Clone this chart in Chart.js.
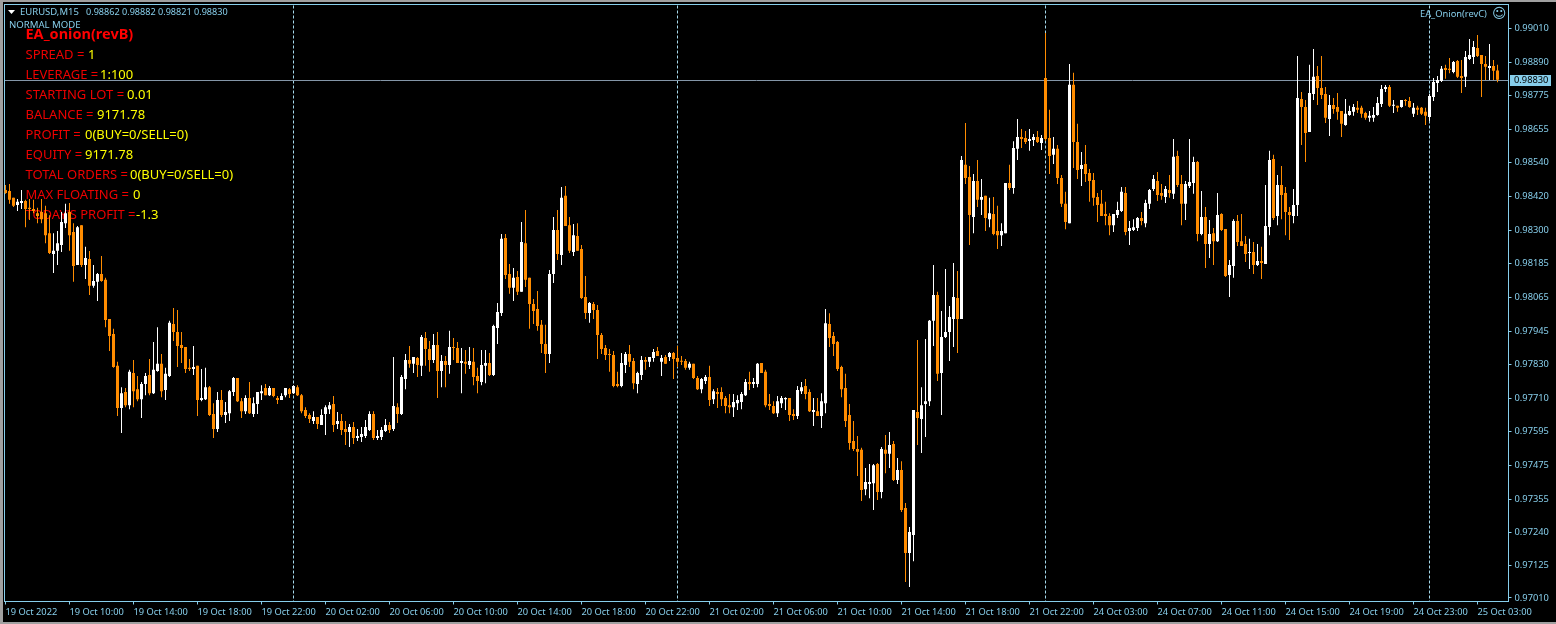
<!DOCTYPE html>
<html>
<head>
<meta charset="utf-8">
<title>EURUSD,M15</title>
<script src="https://cdn.jsdelivr.net/npm/chart.js@4/dist/chart.umd.min.js"></script>
<style>
	html, body { margin: 0; padding: 0; background: #000; overflow: hidden; }
	canvas { display: block; }
</style>
</head>
<body>
<canvas id="chart" width="1556" height="624"></canvas>
<script>
// Prices are in points (1 point = 0.00001), one entry per 15 minute bar
const opens = [
	98443,98439,98415,98390,98397,98404,98380,98376,98361,98365,98361,98291,98218,98229,98249,98326,
	98365,98295,98179,98319,98179,98200,98106,98120,98148,98127,97990,97937,97825,97677,97733,97687,
	97800,97743,97708,97761,97793,97729,97807,97832,97740,97789,97972,97944,97898,97891,97818,97814,
	97825,97705,97708,97750,97656,97603,97705,97652,97659,97733,97782,97701,97666,97712,97656,97691,
	97729,97747,97722,97747,97712,97705,97722,97743,97729,97750,97722,97670,97652,97631,97645,97617,
	97656,97673,97691,97621,97631,97603,97593,97610,97572,97575,97579,97600,97656,97572,97575,97596,
	97617,97603,97680,97656,97779,97846,97832,97853,97825,97923,97884,97846,97898,97807,97842,97828,
	97891,97888,97835,97839,97828,97839,97789,97768,97825,97835,97793,97958,98011,98274,98148,98099,
	98137,98085,98256,98134,98042,98025,97969,97902,97867,98148,98302,98214,98422,98319,98225,98281,
	98235,98067,98011,98042,98021,97933,97888,97867,97863,97761,97754,97828,97867,97842,97761,97793,
	97846,97839,97853,97877,97839,97856,97856,97870,97853,97842,97842,97818,97832,97782,97743,97772,
	97786,97708,97733,97733,97712,97687,97680,97694,97698,97722,97768,97761,97761,97835,97804,97691,
	97684,97659,97694,97708,97712,97656,97649,97736,97754,97733,97663,97666,97649,97694,97972,97930,
	97909,97821,97747,97652,97561,97533,97530,97392,97410,97413,97480,97382,97530,97516,97551,97424,
	97459,97326,97168,97231,97663,97638,97691,97701,97983,98074,97800,97926,97944,97990,98063,97990,
	98531,98488,98348,98474,98408,98422,98340,98358,98299,98284,98291,98467,98450,98587,98629,98625,
	98615,98618,98629,98608,98836,98625,98566,98587,98485,98394,98326,98812,98611,98516,98534,98502,
	98478,98418,98394,98358,98351,98319,98355,98369,98432,98299,98302,98309,98344,98326,98394,98446,
	98474,98432,98418,98443,98429,98562,98464,98394,98457,98467,98541,98288,98348,98253,98291,98263,
	98358,98306,98144,98176,98334,98263,98253,98221,98225,98179,98193,98183,98313,98551,98351,98460,
	98432,98365,98351,98390,98762,98734,98646,98780,98843,98801,98780,98692,98741,98734,98720,98671,
	98706,98717,98731,98731,98713,98696,98696,98706,98745,98797,98804,98738,98738,98734,98759,98755,
	98710,98731,98731,98717,98699,98769,98818,98825,98871,98868,98857,98896,98843,98840,98903,98910,
	98941,98917,98885,98871,98878,98862
];
const highs = [
	98460,98464,98415,98411,98443,98408,98411,98408,98380,98411,98387,98354,98291,98299,98365,98394,
	98397,98326,98316,98319,98243,98228,98179,98151,98211,98134,97990,97955,97839,97750,97747,97811,
	97846,97789,97768,97800,97849,97909,97961,97867,97818,97983,98028,98021,97944,97891,97849,97895,
	97825,97814,97818,97754,97694,97733,97740,97698,97740,97786,97782,97712,97722,97768,97715,97733,
	97757,97761,97754,97747,97719,97729,97747,97747,97757,97757,97726,97680,97659,97666,97645,97673,
	97687,97698,97719,97663,97656,97631,97621,97628,97603,97610,97635,97666,97666,97600,97610,97638,
	97628,97856,97694,97793,97867,97895,97856,97856,97933,97944,97912,97937,97944,97863,97860,97948,
	97923,97909,97888,97881,97891,97888,97818,97881,97881,97870,97969,98046,98288,98288,98183,98169,
	98158,98330,98372,98134,98060,98088,97986,97969,98162,98348,98372,98453,98457,98348,98323,98326,
	98249,98141,98049,98049,98039,97940,97898,97884,97877,97804,97870,97874,97898,97853,97804,97860,
	97856,97856,97884,97891,97863,97863,97874,97874,97895,97860,97849,97839,97832,97789,97782,97793,
	97825,97743,97747,97750,97719,97726,97726,97722,97733,97779,97804,97782,97835,97835,97811,97726,
	97701,97719,97719,97715,97712,97673,97754,97768,97779,97743,97712,97712,97729,98025,98010,97944,
	97912,97825,97797,97691,97631,97579,97537,97466,97480,97480,97484,97540,97582,97593,97561,97501,
	97490,97343,97259,97670,97916,97750,97919,97986,98179,98085,98018,98165,98035,98186,98158,98562,
	98678,98527,98499,98548,98481,98422,98415,98418,98387,98326,98467,98531,98614,98692,98657,98650,
	98657,98639,98650,98636,98994,98724,98629,98601,98495,98436,98885,98854,98675,98576,98601,98516,
	98502,98432,98443,98401,98361,98358,98401,98453,98453,98334,98340,98348,98365,98408,98446,98495,
	98506,98464,98457,98495,98622,98580,98495,98474,98622,98559,98544,98439,98383,98337,98309,98432,
	98361,98306,98197,98340,98355,98358,98281,98271,98260,98253,98243,98460,98580,98566,98495,98527,
	98453,98383,98446,98913,98787,98759,98882,98938,98878,98913,98804,98776,98766,98783,98720,98762,
	98738,98745,98755,98738,98717,98720,98734,98769,98811,98811,98811,98759,98738,98759,98762,98769,
	98748,98738,98734,98731,98780,98836,98843,98878,98882,98906,98896,98899,98899,98931,98973,98966,
	98987,98917,98913,98955,98899,98882
];
const lows = [
	98429,98394,98383,98369,98376,98312,98337,98361,98326,98326,98256,98218,98151,98179,98225,98309,
	98229,98120,98179,98172,98130,98074,98099,98053,98120,97961,97877,97818,97649,97589,97680,97673,
	97680,97701,97642,97722,97722,97726,97804,97715,97705,97786,97912,97821,97835,97800,97807,97793,
	97649,97701,97705,97649,97572,97593,97645,97624,97631,97719,97698,97642,97656,97656,97645,97656,
	97705,97722,97719,97715,97691,97705,97715,97712,97726,97719,97659,97642,97624,97621,97603,97617,
	97582,97656,97593,97603,97582,97547,97540,97551,97561,97558,97572,97596,97565,97565,97565,97593,
	97589,97596,97624,97652,97743,97818,97800,97786,97789,97825,97804,97835,97712,97750,97750,97797,
	97846,97835,97729,97797,97814,97757,97729,97757,97764,97789,97789,97902,98000,98130,98078,98053,
	98074,98085,98102,97955,97972,97948,97870,97800,97835,98116,98197,98179,98316,98221,98211,98229,
	98060,97990,97976,97990,97849,97867,97846,97804,97750,97750,97750,97800,97821,97743,97729,97775,
	97811,97821,97839,97860,97789,97832,97842,97779,97821,97828,97811,97811,97779,97740,97729,97761,
	97684,97691,97677,97684,97659,97659,97645,97670,97673,97719,97740,97747,97750,97800,97680,97670,
	97656,97645,97677,97670,97631,97635,97638,97726,97708,97663,97614,97649,97607,97659,97891,97860,
	97807,97715,97610,97530,97526,97438,97350,97371,97360,97319,97354,97360,97448,97466,97421,97410,
	97312,97066,97048,97139,97547,97519,97575,97684,97895,97772,97652,97923,97842,97891,97870,97990,
	98464,98249,98291,98383,98355,98299,98312,98284,98235,98246,98291,98443,98429,98548,98590,98604,
	98580,98597,98608,98583,98615,98499,98534,98464,98383,98305,98326,98520,98481,98457,98471,98401,
	98387,98330,98351,98319,98284,98295,98344,98365,98284,98249,98299,98299,98319,98312,98376,98439,
	98404,98408,98397,98415,98411,98453,98319,98337,98450,98429,98263,98284,98169,98204,98179,98260,
	98299,98137,98067,98134,98246,98246,98190,98165,98148,98176,98130,98183,98284,98337,98319,98340,
	98284,98267,98326,98351,98601,98541,98646,98759,98741,98762,98678,98632,98710,98689,98629,98668,
	98703,98703,98713,98696,98689,98682,98682,98703,98734,98787,98734,98713,98717,98731,98738,98731,
	98699,98706,98706,98671,98685,98755,98787,98822,98833,98853,98853,98836,98783,98804,98899,98885,
	98910,98769,98829,98829,98829,98821
];
const closes = [
	98432,98408,98387,98401,98404,98376,98376,98369,98351,98340,98284,98221,98229,98256,98330,98361,
	98284,98176,98312,98179,98204,98106,98123,98148,98123,97986,97930,97821,97677,97729,97687,97804,
	97736,97708,97761,97789,97729,97811,97832,97736,97797,97976,97944,97895,97888,97814,97814,97821,
	97705,97712,97750,97652,97603,97705,97652,97663,97736,97782,97701,97666,97712,97659,97694,97733,
	97736,97722,97747,97719,97705,97719,97747,97726,97754,97722,97666,97649,97638,97645,97621,97652,
	97680,97687,97617,97631,97600,97593,97610,97572,97579,97586,97610,97656,97572,97579,97600,97617,
	97600,97684,97656,97786,97846,97832,97856,97828,97926,97884,97846,97898,97807,97842,97828,97891,
	97888,97835,97842,97832,97842,97786,97772,97828,97835,97793,97965,98014,98271,98144,98099,98134,
	98085,98260,98127,98042,98018,97965,97902,97867,98148,98302,98218,98415,98316,98229,98284,98229,
	98063,98011,98046,98021,97933,97884,97863,97863,97754,97754,97835,97867,97839,97764,97800,97846,
	97839,97856,97874,97860,97853,97832,97870,97849,97839,97839,97818,97832,97782,97743,97779,97786,
	97705,97736,97726,97708,97684,97680,97698,97705,97726,97768,97761,97768,97832,97800,97687,97684,
	97659,97701,97712,97712,97652,97649,97740,97750,97726,97666,97670,97649,97701,97975,97923,97902,
	97814,97743,97631,97554,97533,97523,97389,97417,97417,97476,97382,97533,97516,97547,97424,97459,
	97319,97168,97242,97670,97642,97687,97701,97983,98074,97797,97926,97944,97997,98067,97990,98548,
	98485,98355,98474,98408,98418,98344,98361,98288,98284,98299,98467,98450,98590,98629,98622,98611,
	98622,98629,98611,98625,98622,98562,98587,98485,98394,98330,98812,98611,98513,98530,98499,98474,
	98415,98390,98351,98351,98319,98358,98372,98436,98295,98309,98312,98344,98334,98397,98443,98481,
	98425,98422,98446,98432,98559,98460,98394,98464,98471,98541,98288,98348,98253,98288,98263,98355,
	98302,98141,98179,98334,98260,98246,98218,98225,98179,98193,98186,98316,98548,98344,98460,98425,
	98365,98355,98390,98766,98734,98643,98783,98840,98801,98776,98696,98741,98727,98717,98675,98710,
	98720,98734,98724,98710,98696,98703,98706,98748,98797,98804,98738,98741,98731,98759,98755,98734,
	98731,98724,98710,98703,98773,98822,98829,98868,98864,98864,98892,98840,98836,98910,98917,98945,
	98913,98885,98875,98878,98861,98830
];

// One time label every 16 bars (4 hours)
const timeLabels = [
	'19 Oct 2022', '19 Oct 10:00', '19 Oct 14:00', '19 Oct 18:00', '19 Oct 22:00', '20 Oct 02:00',
	'20 Oct 06:00', '20 Oct 10:00', '20 Oct 14:00', '20 Oct 18:00', '20 Oct 22:00', '21 Oct 02:00',
	'21 Oct 06:00', '21 Oct 10:00', '21 Oct 14:00', '21 Oct 18:00', '21 Oct 22:00', '24 Oct 03:00',
	'24 Oct 07:00', '24 Oct 11:00', '24 Oct 15:00', '24 Oct 19:00', '24 Oct 23:00', '25 Oct 03:00'
];
const priceTicks = [
	97010, 97125, 97240, 97355, 97475, 97595, 97710, 97830, 97945,
	98065, 98185, 98300, 98420, 98540, 98655, 98775, 98890, 99010
];
const daySeparators = [72, 168, 260, 356]; // bars that open a new day

const BAR_UP = '#ffffff';
const BAR_DOWN = '#ff8c00';
const SKY = '#87ceeb';
const FONT = '"Noto Sans", sans-serif';

const barColors = closes.map((close, i) => close >= opens[i] ? BAR_UP : BAR_DOWN);
const wickData = highs.map((high, i) => ({ x: i, y: [lows[i], high] }));
const bodyData = opens.map((open, i) => ({ x: i, y: [Math.min(open, closes[i]), Math.max(open, closes[i])] }));

// Account panel of the EA: label in red, value in yellow
const panelRows = [
	['SPREAD = ', '1', 88],
	['LEVERAGE = ', '1:100', 100],
	['STARTING LOT = ', '0.01', 127],
	['BALANCE = ', '9171.78', 97],
	['PROFIT = ', '0(BUY=0/SELL=0)', 85],
	['EQUITY = ', '9171.78', 85],
	['TOTAL ORDERS = ', '0(BUY=0/SELL=0)', 130],
	['MAX FLOATING = ', '0', 133],
	["TODAY'S PROFIT = ", '-1.3', 136]
];

function drawText(ctx, text, x, y, color, font) {
	ctx.fillStyle = color;
	ctx.font = font;
	ctx.textAlign = 'left';
	ctx.textBaseline = 'middle';
	ctx.fillText(text, x, y);
}

// Everything MT4 paints behind the candles
const backdropPlugin = {
	id: 'backdrop',
	beforeDatasetsDraw(chart) {
		const { ctx, chartArea, scales } = chart;
		ctx.save();

		// Period separators
		ctx.strokeStyle = '#a5d8ea';
		ctx.lineWidth = 1;
		ctx.setLineDash([3, 2]);
		daySeparators.forEach(bar => {
			const x = scales.x.getPixelForValue(bar);
			ctx.beginPath();
			ctx.moveTo(x, chartArea.top + 1);
			ctx.lineTo(x, chartArea.bottom);
			ctx.stroke();
		});
		ctx.setLineDash([]);

		// Bid line
		const lastY = Math.round(scales.y.getPixelForValue(closes[closes.length - 1])) + 0.5;
		ctx.strokeStyle = '#8496a8';
		ctx.beginPath();
		ctx.moveTo(chartArea.left, lastY);
		ctx.lineTo(chartArea.right, lastY);
		ctx.stroke();

		// Frame of the chart window
		ctx.strokeStyle = SKY;
		ctx.strokeRect(chartArea.left, chartArea.top, chartArea.right - chartArea.left, chartArea.bottom - chartArea.top);

		// Chart header
		ctx.fillStyle = '#ffffff';
		ctx.beginPath();
		ctx.moveTo(8, 10);
		ctx.lineTo(15, 10);
		ctx.lineTo(11.5, 14);
		ctx.closePath();
		ctx.fill();
		drawText(ctx, 'EURUSD,M15', 20, 12.5, SKY, '9.5px ' + FONT);
		drawText(ctx, '0.98862 0.98882 0.98821 0.98830', 86, 12.5, SKY, '9.1px ' + FONT);
		drawText(ctx, 'NORMAL MODE', 9, 25.5, SKY, '9.6px ' + FONT);
		drawText(ctx, 'EA_Onion(revC)', 1420, 14, SKY, '9.3px ' + FONT);
		drawText(ctx, '☺', 1492, 14, SKY, '14px "DejaVu Sans"');

		// EA panel
		drawText(ctx, 'EA_onion(revB)', 25.5, 35, '#ff0000', 'bold 14.5px ' + FONT);
		panelRows.forEach((row, i) => {
			const y = 55 + i * 20;
			drawText(ctx, row[0], 25.5, y, '#ee0000', '13px ' + FONT);
			drawText(ctx, row[1], row[2], y, '#ffff00', '13px ' + FONT);
		});
		ctx.restore();
	},
	afterDraw(chart) {
		const { ctx, width, height, scales } = chart;
		ctx.save();

		// Window edge
		ctx.fillStyle = '#a0a0a0';
		ctx.fillRect(0, 0, width, 2);
		ctx.fillRect(0, 0, 3, height);
		ctx.fillRect(0, height - 2, width, 2);

		// Last price tag on the axis
		const last = closes[closes.length - 1];
		const lastY = Math.round(scales.y.getPixelForValue(last));
		ctx.fillStyle = SKY;
		ctx.fillRect(1510, lastY - 5, 41, 11);
		drawText(ctx, (last / 100000).toFixed(5), 1514, lastY + 0.5, '#000000', '9.3px ' + FONT);
		ctx.restore();
	}
};

new Chart(document.getElementById('chart'), {
	type: 'bar',
	data: {
		datasets: [
			{
				// Bodies first so they end up on top of the wicks
				data: bodyData,
				backgroundColor: barColors,
				barThickness: 3,
				minBarLength: 1,
				inflateAmount: 0,
				borderWidth: 0,
				grouped: false
			},
			{
				data: wickData,
				backgroundColor: barColors,
				barThickness: 1,
				inflateAmount: 0,
				borderWidth: 0,
				grouped: false
			}
		]
	},
	options: {
		responsive: false,
		animation: false,
		events: [],
		layout: {
			padding: { left: 4.5, top: 4.5, right: 0, bottom: 0 }
		},
		plugins: {
			legend: { display: false },
			tooltip: { enabled: false }
		},
		scales: {
			x: {
				type: 'linear',
				offset: false,
				min: -0.25,
				max: 375.75,
				afterBuildTicks: scale => {
					scale.ticks = timeLabels.map((label, i) => ({ value: i * 16 }));
				},
				afterFit: scale => {
					scale.height = 22.5;
					scale.paddingLeft = 0;
					scale.paddingRight = 0;
				},
				border: { color: SKY, width: 1 },
				grid: { offset: false, drawOnChartArea: false, color: SKY, tickLength: 3 },
				ticks: {
					color: SKY,
					font: { family: FONT, size: 9.3 },
					align: 'start',
					autoSkip: false,
					maxRotation: 0,
					padding: 2,
					callback: value => timeLabels[value / 16]
				}
			},
			y: {
				position: 'right',
				min: 96997.5,
				max: 99094,
				afterBuildTicks: scale => {
					scale.ticks = priceTicks.map(value => ({ value }));
				},
				afterFit: scale => {
					scale.width = 47.5;
					scale.paddingTop = 0;
					scale.paddingBottom = 0;
				},
				border: { color: SKY, width: 1 },
				grid: { drawOnChartArea: false, color: SKY, tickLength: 3 },
				ticks: {
					color: SKY,
					font: { family: FONT, size: 9.3 },
					padding: 3,
					callback: value => (value / 100000).toFixed(5)
				}
			}
		}
	},
	plugins: [backdropPlugin]
});
</script>
</body>
</html>
